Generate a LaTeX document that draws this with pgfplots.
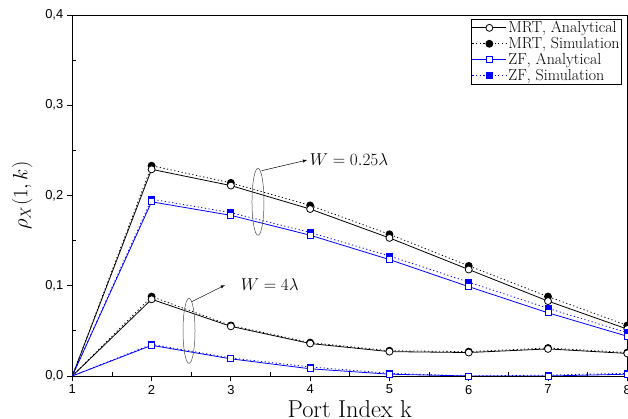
\documentclass[border=0pt]{standalone}
\usepackage{pgfplots}
\pgfplotsset{compat=1.18}
\usepackage{fontspec}
\newfontfamily\arialf{Liberation Sans}
\begin{document}
\begin{tikzpicture}
\begin{axis}[
  scale only axis, width=555bp, height=361bp,
  xmin=1, xmax=8, ymin=0, ymax=0.4,
  xtick={1,2,3,4,5,6,7,8}, ytick={0,0.1,0.2,0.3,0.4},
  minor x tick num=1, minor y tick num=1,
  tick pos=left,
  tick align=outside,
  major tick length=5.5bp, minor tick length=3.5bp,
  minor x tick style={yshift=3.5bp},
  minor y tick style={xshift=3.5bp},
  tick style={black, line width=0.8bp},
  axis line style={line width=0.8bp},
  /pgf/number format/assume math mode=true,
  ticklabel style={font=\arialf\fontsize{13}{15}\selectfont},
  yticklabel style={/pgf/number format/fixed, /pgf/number format/fixed zerofill, /pgf/number format/precision=1, /pgf/number format/use comma},
  xlabel={Port Index k},
  xlabel style={font=\fontsize{24.5}{28}\selectfont, at={(axis description cs:0.5,0)}, anchor=base, yshift=-41bp},
  ylabel={$\rho_X(1,k)$},
  ylabel style={font=\fontsize{22}{26}\selectfont, at={(axis description cs:-0.0901,0.5)}, anchor=center},
  legend image code/.code={\draw[mark repeat=2,mark phase=2,#1] plot coordinates {(0bp,0bp)(17bp,0bp)(34bp,0bp)};},
  legend style={at={(axis description cs:0.7185,0.989)}, anchor=north west, draw=black, line width=0.8bp, font=\fontsize{16}{18}\selectfont, inner sep=0.5bp, row sep=0pt, nodes={inner sep=1.6bp}, cells={anchor=west}},
]
\addlegendimage{black, line width=0.8bp, mark=*, mark size=3.5bp, mark options={fill=white, draw=black, solid}}
\addlegendentry{MRT, Analytical}
\addlegendimage{black, line width=0.8bp, dash pattern=on 1.2bp off 2.5bp, mark=*, mark size=3.5bp, mark options={fill=black, solid}}
\addlegendentry{MRT, Simulation}
\addlegendimage{blue, line width=0.8bp, mark=square*, mark size=3bp, mark options={fill=white, draw=blue, solid}}
\addlegendentry{ZF, Analytical}
\addlegendimage{blue, line width=0.8bp, dash pattern=on 1.2bp off 2.5bp, mark=square*, mark size=3bp, mark options={fill=blue, solid}}
\addlegendentry{ZF, Simulation}

% W = 0.25 lambda
\addplot[forget plot, black, line width=0.8bp, dash pattern=on 1.2bp off 2.5bp, mark=*, mark size=3.5bp, mark options={fill=black, solid}, mark indices={2,3,4,5,6,7,8}]
  coordinates {(1,0) (2,0.233) (3,0.214) (4,0.189) (5,0.157) (6,0.122) (7,0.088) (8,0.056)};
\addplot[forget plot, black, line width=0.8bp, mark=*, mark size=3.5bp, mark options={fill=white, draw=black, solid}, mark indices={2,3,4,5,6,7,8}]
  coordinates {(1,0) (2,0.229) (3,0.211) (4,0.185) (5,0.153) (6,0.118) (7,0.083) (8,0.052)};
\addplot[forget plot, blue, line width=0.8bp, dash pattern=on 1.2bp off 2.5bp, mark=square*, mark size=3bp, mark options={fill=blue, solid}, mark indices={2,3,4,5,6,7,8}]
  coordinates {(1,0) (2,0.196) (3,0.181) (4,0.159) (5,0.133) (6,0.104) (7,0.075) (8,0.048)};
\addplot[forget plot, blue, line width=0.8bp, mark=square*, mark size=3bp, mark options={fill=white, draw=blue, solid}, mark indices={2,3,4,5,6,7,8}]
  coordinates {(1,0) (2,0.193) (3,0.178) (4,0.156) (5,0.129) (6,0.099) (7,0.070) (8,0.044)};

% W = 4 lambda
\addplot[forget plot, black, line width=0.8bp, dash pattern=on 1.2bp off 2.5bp, mark=*, mark size=3.5bp, mark options={fill=black, solid}, mark indices={2,3,4,5,6,7,8}]
  coordinates {(1,0) (2,0.088) (3,0.056) (4,0.037) (5,0.028) (6,0.027) (7,0.031) (8,0.026)};
\addplot[forget plot, black, line width=0.8bp, mark=*, mark size=3.5bp, mark options={fill=white, draw=black, solid}, mark indices={2,3,4,5,6,7,8}]
  coordinates {(1,0) (2,0.085) (3,0.055) (4,0.036) (5,0.027) (6,0.026) (7,0.030) (8,0.025)};
\addplot[forget plot, blue, line width=0.8bp, dash pattern=on 1.2bp off 2.5bp, mark=square*, mark size=3bp, mark options={fill=blue, solid}, mark indices={2,3,4,5,6,7,8}]
  coordinates {(1,0) (2,0.035) (3,0.020) (4,0.010) (5,0.003) (6,0.000) (7,0.001) (8,0.003)};
\addplot[forget plot, blue, line width=0.8bp, mark=square*, mark size=3bp, mark options={fill=white, draw=blue, solid}, mark indices={2,3,4,5,6,7,8}]
  coordinates {(1,0) (2,0.034) (3,0.019) (4,0.008) (5,0.002) (6,0.000) (7,0.000) (8,0.002)};

% annotations
\draw[line width=0.5bp, black!70] (axis cs:3.342,0.193) ellipse [x radius=6bp, y radius=33.5bp];
\draw[line width=0.5bp, -latex] (axis cs:3.388,0.2275) -- (axis cs:3.963,0.2393);
\node[anchor=west, inner sep=1bp, font=\fontsize{16.5}{19}\selectfont] at (axis cs:3.98,0.240) {$W = 0.25\lambda$};
\draw[line width=0.5bp, black!70] (axis cs:2.472,0.050) ellipse [x radius=6bp, y radius=32.5bp];
\draw[line width=0.5bp, -latex] (axis cs:2.506,0.0823) -- (axis cs:2.926,0.1008);
\node[anchor=west, inner sep=1bp, font=\fontsize{16.5}{19}\selectfont] at (axis cs:3.11,0.101) {$W = 4\lambda$};
\end{axis}
\pgfresetboundingbox
\useasboundingbox (-72.3bp,-43bp) rectangle (555.7bp,376bp);
\end{tikzpicture}
\end{document}
